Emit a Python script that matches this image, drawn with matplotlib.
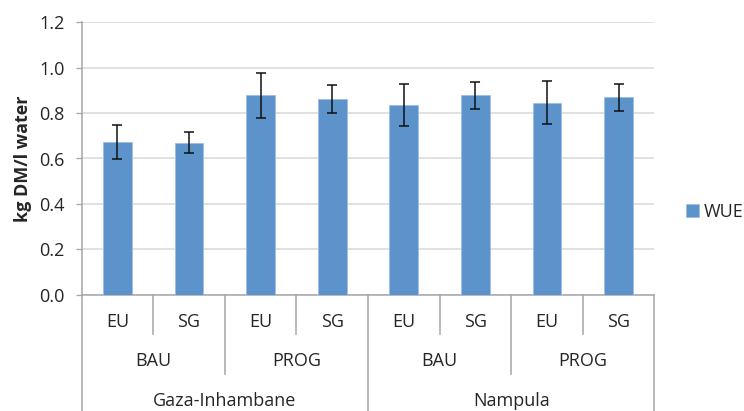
import numpy as np
import matplotlib
matplotlib.use("Agg")
import matplotlib.pyplot as plt
from matplotlib.lines import Line2D

# WUE per scenario
regions = ["Gaza-Inhambane", "Nampula"]
scenarios = ["BAU", "PROG", "BAU", "PROG"]
crops = ["EU", "SG", "EU", "SG", "EU", "SG", "EU", "SG"]
wue = [0.672, 0.669, 0.878, 0.862, 0.834, 0.878, 0.845, 0.869]
err = [0.075, 0.046, 0.098, 0.060, 0.093, 0.060, 0.095, 0.060]

plt.rcParams["font.family"] = ["Open Sans", "DejaVu Sans"]
txt = "#262626"
axc = "#A6A6A6"
fs = 13

fig = plt.figure(figsize=(7.44, 4.11), dpi=100)
ax = fig.add_axes([81.7 / 744, 1 - 294.7 / 411, (654.3 - 81.7) / 744, (294.7 - 22.3) / 411])

x = np.arange(len(wue))
ax.bar(x, wue, width=0.4, color="#5B93CA", edgecolor="#9DBFE2", linewidth=0.6,
       label="WUE", zorder=3)
ax.errorbar(x, wue, yerr=err, fmt="none", ecolor="#111111", elinewidth=1.1,
            capsize=3.3, capthick=1.1, zorder=4)

ax.set_xlim(-0.5, len(wue) - 0.5)
ax.set_ylim(0, 1.2)
ax.set_yticks(np.arange(0, 1.21, 0.2))
ax.set_yticklabels([f"{v:.1f}" for v in np.arange(0, 1.21, 0.2)])
ax.yaxis.grid(True, color="#D9D9D9", linewidth=1.1, zorder=0)
ax.set_axisbelow(True)
ax.tick_params(axis="y", length=4.5, width=0.9, color=axc, labelsize=fs,
               labelcolor=txt, pad=8)
ax.set_xticks([])
for s in ["top", "right"]:
    ax.spines[s].set_visible(False)
for s in ["left", "bottom"]:
    ax.spines[s].set_color(axc)
    ax.spines[s].set_linewidth(1.1)

ax.set_ylabel("kg DM/l water", fontsize=fs, fontweight="bold", color=txt, labelpad=5)

# multi-level category axis
h = 272.4
tr = ax.get_xaxis_transform()


def yax(px):
    return -(px - 294.7) / h


def vline(xv, bottom_px):
    ax.add_line(Line2D([xv, xv], [0, yax(bottom_px)], transform=tr, color=axc,
                       linewidth=1.1, clip_on=False))


for xv in [0.5, 2.5, 4.5, 6.5]:
    vline(xv, 334)
for xv in [1.5, 5.5]:
    vline(xv, 374)
for xv in [-0.5, 3.5, 7.5]:
    vline(xv, 411)

for i, c in enumerate(crops):
    ax.text(i, yax(321.7), c, transform=tr, ha="center", va="center",
            fontsize=fs, color=txt)
for i, s in enumerate(scenarios):
    ax.text(2 * i + 0.5, yax(360.5), s, transform=tr, ha="center", va="center",
            fontsize=fs, color=txt)
for i, r in enumerate(regions):
    ax.text(4 * i + 1.5, yax(401), r, transform=tr, ha="center", va="center",
            fontsize=fs, color=txt)

fig.legend(loc="center left", bbox_to_anchor=(686 / 744, 1 - 212 / 411),
           frameon=False, fontsize=fs, handlelength=0.7, handleheight=0.7,
           handletextpad=0.3, borderpad=0, borderaxespad=0, labelcolor=txt)

fig.savefig("out.png", dpi=100)
